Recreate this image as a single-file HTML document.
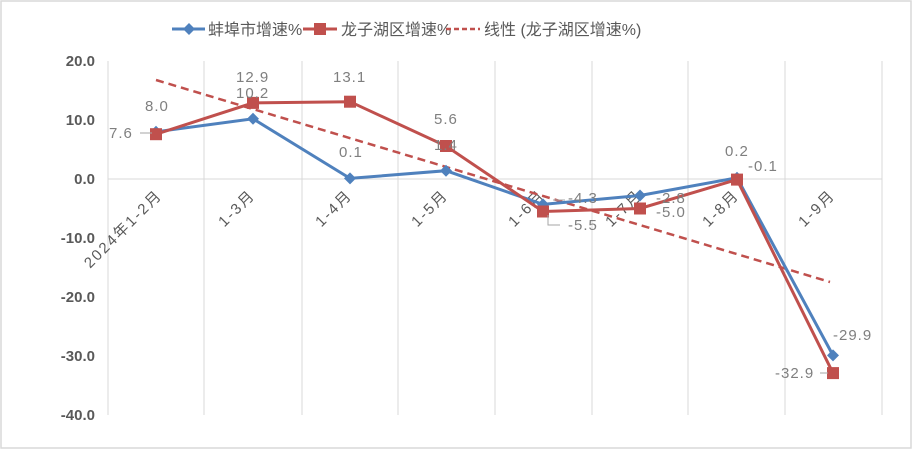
<!DOCTYPE html>
<html><head><meta charset="utf-8"><style>
html,body{margin:0;padding:0;background:#fff}
svg{display:block}
text{font-family:"Liberation Sans","Noto Sans CJK SC",sans-serif}
</style></head><body>
<svg width="912" height="449" viewBox="0 0 912 449" xmlns="http://www.w3.org/2000/svg">
<rect x="1" y="1" width="910" height="447" fill="#fff" stroke="#d9d9d9" stroke-width="1.5"/>
<!-- legend -->
<g font-size="16" fill="#595959">
<line x1="172" y1="29" x2="205" y2="29" stroke="#4f81bd" stroke-width="3"/>
<path d="M189 23 L195 29 L189 35 L183 29Z" fill="#4f81bd"/>
<text x="208" y="35">蚌埠市增速%</text>
<line x1="303" y1="29" x2="337" y2="29" stroke="#c0504d" stroke-width="3"/>
<rect x="314" y="23" width="12" height="12" fill="#c0504d"/>
<text x="341" y="35">龙子湖区增速%</text>
<line x1="446" y1="29" x2="480" y2="29" stroke="#c0504d" stroke-width="2.5" stroke-dasharray="5,3"/>
<text x="484" y="35">线性 (龙子湖区增速%)</text>
</g>
<!-- grid -->
<g stroke="#d9d9d9" stroke-width="1">
<line x1="108" y1="61" x2="108" y2="415"/><line x1="204" y1="61" x2="204" y2="415"/>
<line x1="302" y1="61" x2="302" y2="415"/><line x1="398" y1="61" x2="398" y2="415"/>
<line x1="495" y1="61" x2="495" y2="415"/><line x1="592" y1="61" x2="592" y2="415"/>
<line x1="688" y1="61" x2="688" y2="415"/><line x1="785" y1="61" x2="785" y2="415"/>
<line x1="882" y1="61" x2="882" y2="415"/>
<line x1="108" y1="179" x2="882" y2="179"/>
</g>
<!-- y labels -->
<g font-size="15" font-weight="bold" fill="#595959" text-anchor="end">
<text x="95" y="66">20.0</text><text x="95" y="125">10.0</text><text x="95" y="184">0.0</text>
<text x="95" y="243">-10.0</text><text x="95" y="302">-20.0</text><text x="95" y="361">-30.0</text><text x="95" y="420">-40.0</text>
</g>
<!-- x labels -->
<g font-size="15" fill="#595959" text-anchor="end" letter-spacing="2">
<text transform="translate(163,196) rotate(-45)">2024年1-2月</text>
<text transform="translate(256,196) rotate(-45)">1-3月</text>
<text transform="translate(353,196) rotate(-45)">1-4月</text>
<text transform="translate(449,196) rotate(-45)">1-5月</text>
<text transform="translate(546,196) rotate(-45)">1-6月</text>
<text transform="translate(643,196) rotate(-45)">1-7月</text>
<text transform="translate(740,196) rotate(-45)">1-8月</text>
<text transform="translate(836,196) rotate(-45)">1-9月</text>
</g>
<!-- trend -->
<line x1="156" y1="80" x2="830" y2="282" stroke="#c0504d" stroke-width="2.5" stroke-dasharray="8,5"/>
<!-- blue -->
<polyline fill="none" stroke="#4f81bd" stroke-width="3" points="156,131.8 253,118.8 350,178.4 446,170.7 543,204.4 640,195.5 737,177.8 833,355.4"/>
<g fill="#4f81bd">
<path d="M156 125.8l6 6-6 6-6-6z"/><path d="M253 112.8l6 6-6 6-6-6z"/><path d="M350 172.4l6 6-6 6-6-6z"/><path d="M446 164.7l6 6-6 6-6-6z"/>
<path d="M543 198.4l6 6-6 6-6-6z"/><path d="M640 189.5l6 6-6 6-6-6z"/><path d="M737 171.8l6 6-6 6-6-6z"/><path d="M833 349.4l6 6-6 6-6-6z"/>
</g>
<!-- red -->
<polyline fill="none" stroke="#c0504d" stroke-width="3" points="156,134.2 253,102.9 350,101.7 446,146 543,211.5 640,208.5 737,179.6 833,373.1"/>
<g fill="#c0504d">
<rect x="150" y="128.2" width="12" height="12"/><rect x="247" y="96.9" width="12" height="12"/><rect x="344" y="95.7" width="12" height="12"/><rect x="440" y="140" width="12" height="12"/>
<rect x="537" y="205.5" width="12" height="12"/><rect x="634" y="202.5" width="12" height="12"/><rect x="731" y="173.6" width="12" height="12"/><rect x="827" y="367.1" width="12" height="12"/>
</g>
<!-- data labels -->
<g font-size="15" fill="#7f7f7f" letter-spacing="1">
<text x="145" y="111">8.0</text><text x="109" y="138">7.6</text>
<text x="236" y="82">12.9</text><text x="236" y="98">10.2</text>
<text x="333" y="82">13.1</text><text x="339" y="157">0.1</text>
<text x="434" y="124">5.6</text><text x="434" y="150">1.4</text>
<text x="568" y="203">-4.3</text><text x="568" y="230">-5.5</text>
<text x="656" y="203">-2.8</text><text x="656" y="217">-5.0</text>
<text x="725" y="156">0.2</text><text x="748" y="171">-0.1</text>
<text x="833" y="340">-29.9</text><text x="775" y="378">-32.9</text>
</g>
<g stroke="#a6a6a6" stroke-width="1" fill="none">
<line x1="140" y1="133" x2="152" y2="133"/><line x1="820" y1="373" x2="828" y2="373"/>
<path d="M548 215 L548 225 L560 225"/><path d="M553 200 L565 200"/>
</g>
</svg>
</body></html>
